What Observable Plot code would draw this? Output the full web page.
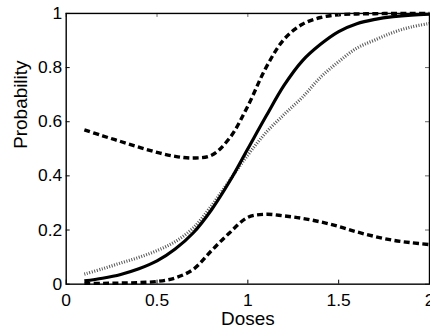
<!DOCTYPE html>
<html>
<head>
<meta charset="utf-8">
<script src="https://cdn.jsdelivr.net/npm/d3@7"></script>
<script src="https://cdn.jsdelivr.net/npm/@observablehq/plot@0.6"></script>
<style>
  html, body { margin: 0; padding: 0; background: #fff; overflow: hidden; }
</style>
</head>
<body>
<div id="chart"></div>
<script>
// Data
const doses = [0.1, 0.2, 0.3, 0.4, 0.5, 0.6, 0.7, 0.8, 0.9, 1.0, 1.1, 1.2, 1.3, 1.4, 1.5, 1.6, 1.7, 1.8, 1.9, 2.0];
const meanProb  = [0.012, 0.022, 0.036, 0.057, 0.086, 0.130, 0.190, 0.275, 0.380, 0.500, 0.620, 0.735, 0.825, 0.886, 0.933, 0.962, 0.978, 0.988, 0.994, 0.997];
const upperProb = [0.570, 0.548, 0.527, 0.506, 0.487, 0.472, 0.466, 0.476, 0.540, 0.658, 0.800, 0.905, 0.960, 0.985, 0.995, 0.998, 0.999, 1.000, 1.000, 1.000];
const lowerProb = [0.003, 0.003, 0.004, 0.006, 0.010, 0.023, 0.055, 0.124, 0.190, 0.247, 0.258, 0.252, 0.243, 0.230, 0.213, 0.193, 0.176, 0.162, 0.153, 0.146];
const trueProb  = [0.037, 0.057, 0.078, 0.099, 0.124, 0.157, 0.208, 0.290, 0.384, 0.477, 0.560, 0.627, 0.690, 0.764, 0.822, 0.872, 0.902, 0.930, 0.950, 0.963];

const xTicks = [0, 0.5, 1, 1.5, 2];
const xTickLabels = ["0", "0.5", "1", "1.5", "2"];
const yTicks = [0, 0.2, 0.4, 0.6, 0.8, 1];
const yTickLabels = ["0", "0.2", "0.4", "0.6", "0.8", "1"];
const xLabel = "Doses";
const yLabel = "Probability";

const rows = doses.map((d, i) => ({dose: d, mean: meanProb[i], upper: upperProb[i], lower: lowerProb[i], truth: trueProb[i]}));

const W = 432, H = 331, mL = 66, mR = 1, mT = 13, mB = 46;
const plotW = W - mL - mR, plotH = H - mT - mB;
const tickLen = 4;
const curve = "catmull-rom";

const chart = Plot.plot({
  width: W,
  height: H,
  marginLeft: mL,
  marginRight: mR,
  marginTop: mT,
  marginBottom: mB,
  x: {domain: [0, 2]},
  y: {domain: [0, 1]},
  style: {fontFamily: "'Liberation Sans', Arial, Helvetica, sans-serif", fontSize: "18px", background: "#fff", color: "#000"},
  marks: [
    Plot.line(rows, {x: "dose", y: "truth", stroke: "#555", strokeWidth: 3.2, strokeDasharray: "1,1.6", strokeLinecap: "butt", curve}),
    Plot.line(rows, {x: "dose", y: "upper", stroke: "#000", strokeWidth: 3.4, strokeDasharray: "6,3.4", strokeLinecap: "butt", curve}),
    Plot.line(rows, {x: "dose", y: "lower", stroke: "#000", strokeWidth: 3.4, strokeDasharray: "6,3.4", strokeLinecap: "butt", curve}),
    Plot.line(rows, {x: "dose", y: "mean", stroke: "#000", strokeWidth: 3.2, strokeLinecap: "butt", curve}),
    // inner ticks (MATLAB style)
    Plot.tickX(xTicks, {x: d => d, insetTop: plotH - tickLen, stroke: "#000", strokeWidth: 1}),
    Plot.tickX(xTicks, {x: d => d, insetBottom: plotH - tickLen, stroke: "#666", strokeWidth: 1}),
    Plot.tickY(yTicks, {y: d => d, insetRight: plotW - tickLen, stroke: "#000", strokeWidth: 1}),
    Plot.tickY(yTicks, {y: d => d, insetLeft: plotW - tickLen, stroke: "#666", strokeWidth: 1}),
    Plot.frame({stroke: "#000", strokeWidth: 1.4}),
    Plot.axisX({ticks: xTicks, tickSize: 0, tickPadding: 10, tickFormat: d => xTickLabels[xTicks.indexOf(d)], label: null, fontSize: 17.5}),
    Plot.axisY({ticks: yTicks, tickSize: 0, tickPadding: 4, tickFormat: d => yTickLabels[yTicks.indexOf(d)], label: null, fontSize: 17.5}),
    Plot.text([xLabel], {text: d => d, frameAnchor: "bottom", lineAnchor: "middle", dy: 35, fontSize: 19, fill: "#000"}),
    Plot.text([yLabel], {text: d => d, frameAnchor: "left", lineAnchor: "middle", rotate: -90, dx: -45.5, fontSize: 19, fill: "#000"})
  ]
});
document.getElementById("chart").appendChild(chart);
</script>
</body>
</html>
